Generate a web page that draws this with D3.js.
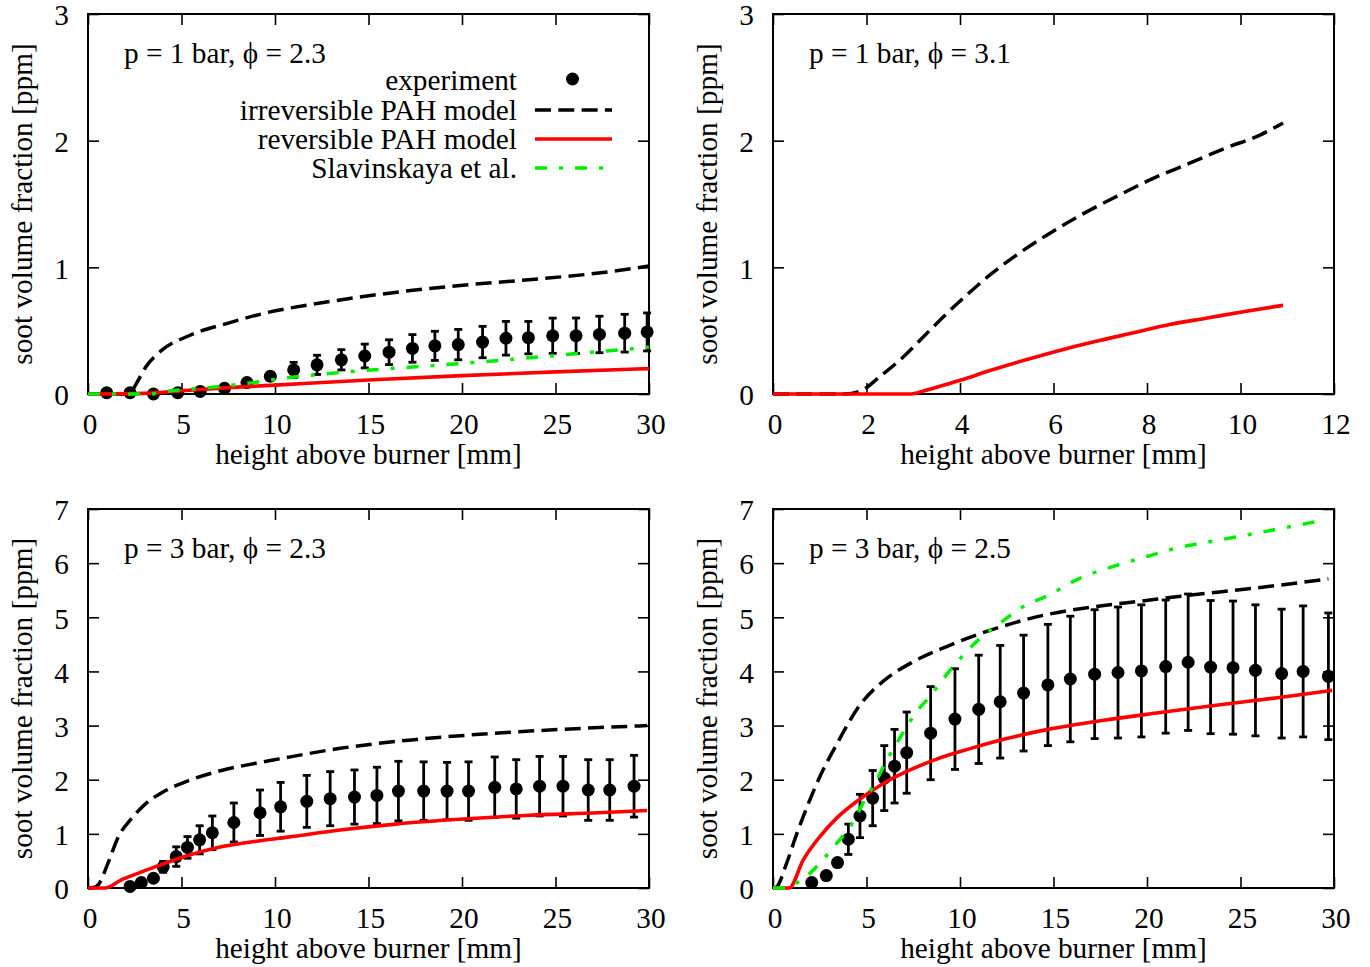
<!DOCTYPE html>
<html>
<head>
<meta charset="utf-8">
<script src="https://cdn.jsdelivr.net/npm/d3@7"></script>
<style>
  html, body { margin: 0; padding: 0; background: #fff; }
  svg text { font-family: "Liberation Serif", "Times New Roman", serif; fill: #000; }
</style>
</head>
<body>
<svg id="chart" width="1370" height="967"></svg>
<script>
// ---------------- DATA ----------------
// Panel A: p = 1 bar, phi = 2.3
const aExpX = [1.0, 2.25, 3.5, 4.8, 6.0, 7.3, 8.5, 9.75, 11.0, 12.25, 13.55, 14.8, 16.1, 17.35, 18.55, 19.8, 21.1, 22.35, 23.55, 24.85, 26.1, 27.35, 28.7, 29.9];
const aExpY = [0.01, 0.01, 0.0, 0.01, 0.02, 0.045, 0.09, 0.14, 0.19, 0.23, 0.27, 0.30, 0.33, 0.36, 0.38, 0.39, 0.41, 0.44, 0.445, 0.46, 0.46, 0.47, 0.48, 0.49];
const aExpErr = [0, 0, 0, 0, 0, 0.01, 0.02, 0.03, 0.06, 0.076, 0.08, 0.094, 0.098, 0.109, 0.115, 0.12, 0.124, 0.133, 0.128, 0.139, 0.14, 0.144, 0.149, 0.15];
const aIrrX = [0, 2.2, 2.5, 2.8, 3.1, 3.9, 5.4, 7.5, 9.5, 12.5, 15.5, 19.4, 23.4, 27.3, 30];
const aIrrY = [0, 0, 0.06, 0.14, 0.215, 0.34, 0.46, 0.56, 0.64, 0.72, 0.785, 0.85, 0.90, 0.955, 1.01];
const aRevX = [0, 3, 5, 7.5, 10, 15, 20, 25, 30];
const aRevY = [0, 0.005, 0.026, 0.05, 0.07, 0.11, 0.145, 0.175, 0.2];
const aSlaX = [0, 3.3, 4.2, 6.2, 8.5, 10.5, 13.5, 16.5, 19.4, 22.4, 25.4, 29.3, 30];
const aSlaY = [0, 0.0, 0.02, 0.047, 0.084, 0.125, 0.17, 0.204, 0.235, 0.27, 0.31, 0.36, 0.37];

// Panel B: p = 1 bar, phi = 3.1
const bIrrX = [0, 1.53, 1.85, 2.31, 2.78, 3.24, 3.7, 4.17, 4.64, 5.26, 5.88, 6.57, 7.35, 8.12, 8.9, 9.67, 10.45, 10.91];
const bIrrY = [0, 0, 0.02, 0.145, 0.29, 0.46, 0.63, 0.79, 0.94, 1.11, 1.26, 1.41, 1.56, 1.70, 1.82, 1.94, 2.05, 2.14];
const bRevX = [0, 2.93, 3.24, 3.7, 4.02, 4.64, 5.41, 6.19, 6.96, 7.74, 8.51, 9.29, 10.06, 10.91];
const bRevY = [0, 0, 0.026, 0.075, 0.11, 0.185, 0.27, 0.35, 0.42, 0.485, 0.55, 0.60, 0.65, 0.70];

// Panel C: p = 3 bar, phi = 2.3
const cExpX = [2.25, 2.85, 3.5, 4.02, 4.72, 5.32, 5.97, 6.65, 7.8, 9.2, 10.3, 11.7, 12.95, 14.25, 15.45, 16.6, 17.95, 19.2, 20.35, 21.75, 22.9, 24.15, 25.4, 26.75, 27.9, 29.2];
const cExpY = [0.03, 0.1, 0.18, 0.39, 0.58, 0.75, 0.89, 1.02, 1.21, 1.39, 1.5, 1.60, 1.65, 1.68, 1.71, 1.79, 1.79, 1.79, 1.79, 1.86, 1.83, 1.88, 1.88, 1.81, 1.81, 1.88];
const cExpErr = [0, 0, 0, 0.1, 0.18, 0.2, 0.26, 0.31, 0.36, 0.42, 0.45, 0.48, 0.50, 0.50, 0.52, 0.55, 0.54, 0.53, 0.54, 0.56, 0.54, 0.55, 0.55, 0.56, 0.56, 0.57];
const cIrrX = [0, 0.3, 0.55, 1.07, 1.6, 2.32, 3.03, 4.1, 5.35, 7.13, 8.91, 10.16, 13.49, 17.44, 21.4, 25.35, 29.9];
const cIrrY = [0, 0.01, 0.06, 0.46, 0.93, 1.28, 1.54, 1.79, 1.98, 2.17, 2.3, 2.38, 2.58, 2.74, 2.85, 2.93, 3.0];
const cRevX = [0, 0.9, 1.78, 2.67, 3.57, 4.45, 5.35, 7.13, 8.91, 10.7, 13.49, 16.45, 19.42, 23.37, 27.3, 29.9];
const cRevY = [0, 0, 0.15, 0.27, 0.39, 0.5, 0.6, 0.76, 0.86, 0.94, 1.07, 1.18, 1.26, 1.34, 1.39, 1.43];

// Panel D: p = 3 bar, phi = 2.5
const dExpX = [2.07, 2.85, 3.45, 4.03, 4.65, 5.33, 5.95, 6.5, 7.15, 8.43, 9.73, 11.0, 12.15, 13.4, 14.7, 15.9, 17.2, 18.45, 19.7, 21.0, 22.2, 23.4, 24.6, 25.8, 27.2, 28.35, 29.7];
const dExpY = [0.1, 0.23, 0.47, 0.9, 1.33, 1.66, 2.03, 2.25, 2.5, 2.86, 3.12, 3.3, 3.44, 3.6, 3.75, 3.86, 3.95, 3.98, 4.01, 4.09, 4.17, 4.08, 4.07, 4.02, 3.96, 4.0, 3.91];
const dExpErr = [0, 0, 0.05, 0.28, 0.4, 0.51, 0.6, 0.68, 0.75, 0.86, 0.93, 1.0, 1.04, 1.07, 1.12, 1.16, 1.19, 1.21, 1.22, 1.23, 1.26, 1.23, 1.23, 1.21, 1.19, 1.21, 1.17];
const dIrrX = [0, 0.1, 0.2, 0.73, 1.27, 1.8, 2.51, 3.4, 4.65, 5.9, 7.5, 9.29, 11.96, 14.64, 17.3, 19.7, 21.8, 25.8, 29.7];
const dIrrY = [0, 0, 0.02, 0.46, 1.0, 1.48, 2.06, 2.65, 3.38, 3.82, 4.18, 4.46, 4.8, 5.05, 5.2, 5.3, 5.39, 5.54, 5.71];
const dRevX = [0, 0.86, 1.62, 2.51, 3.4, 4.48, 5.9, 7.33, 8.75, 10.5, 12.5, 14.7, 17.7, 20.7, 23.8, 27.1, 29.9];
const dRevY = [0, 0, 0.52, 0.95, 1.29, 1.6, 1.93, 2.18, 2.38, 2.57, 2.76, 2.93, 3.1, 3.24, 3.38, 3.52, 3.65];
const dSlaX = [0, 0.8, 1.3, 1.98, 2.51, 3.32, 4.12, 5.01, 5.55, 6.08, 6.61, 7.15, 7.68, 8.22, 9.64, 11.07, 12.14, 13.39, 14.64, 16.4, 18.2, 19.98, 21.6, 23.75, 25.8, 29.5];
const dSlaY = [0, 0, 0.1, 0.27, 0.46, 0.79, 1.13, 1.69, 2.0, 2.36, 2.67, 2.98, 3.26, 3.47, 4.09, 4.61, 4.89, 5.2, 5.39, 5.72, 5.94, 6.12, 6.28, 6.42, 6.55, 6.8];

// Tick values
const xTicks30 = [0, 5, 10, 15, 20, 25, 30];
const xTicks12 = [0, 2, 4, 6, 8, 10, 12];
const yTicks3 = [0, 1, 2, 3];
const yTicks7 = [0, 1, 2, 3, 4, 5, 6, 7];

// Text
const xLabel = "height above burner [mm]";
const yLabel = "soot volume fraction [ppm]";
const titles = ["p = 1 bar, \u03D5 = 2.3", "p = 1 bar, \u03D5 = 3.1", "p = 3 bar, \u03D5 = 2.3", "p = 3 bar, \u03D5 = 2.5"];
const legendLabels = ["experiment", "irreversible PAH model", "reversible PAH model", "Slavinskaya et al."];

// ---------------- STYLE ----------------
const FONT = 29.3;
const styles = {
  irr: { color: "#000", width: 3.5, dash: "16,7.3" },
  rev: { color: "#ff0000", width: 3.6, dash: null },
  sla: { color: "#00ee00", width: 3.5, dash: "12,12,4,12" }
};

const svg = d3.select("#chart");

function zip(xs, ys) { return xs.map((x, i) => [x, ys[i]]); }

function drawPanel(cfg) {
  const g = svg.append("g");
  const x = d3.scaleLinear().domain(cfg.xDomain).range([cfg.left, cfg.right]);
  const y = d3.scaleLinear().domain(cfg.yDomain).range([cfg.bottom, cfg.top]);
  const tl = 11;

  g.append("rect")
    .attr("x", cfg.left).attr("y", cfg.top)
    .attr("width", cfg.right - cfg.left).attr("height", cfg.bottom - cfg.top)
    .attr("fill", "none").attr("stroke", "#000").attr("stroke-width", 2);

  const axB = d3.axisBottom(x).tickValues(cfg.xTicks).tickSize(tl).tickFormat("");
  const axT = d3.axisTop(x).tickValues(cfg.xTicks).tickSize(tl).tickFormat("");
  const axL = d3.axisLeft(y).tickValues(cfg.yTicks).tickSize(tl).tickFormat("");
  const axR = d3.axisRight(y).tickValues(cfg.yTicks).tickSize(tl).tickFormat("");
  function styleAxis(sel) {
    sel.select(".domain").remove();
    sel.selectAll(".tick line").attr("stroke", "#000").attr("stroke-width", 1.6);
  }
  g.append("g").attr("transform", `translate(0,${cfg.bottom - tl})`).call(axB).call(styleAxis);
  g.append("g").attr("transform", `translate(0,${cfg.top + tl})`).call(axT).call(styleAxis);
  g.append("g").attr("transform", `translate(${cfg.left + tl},0)`).call(axL).call(styleAxis);
  g.append("g").attr("transform", `translate(${cfg.right - tl},0)`).call(axR).call(styleAxis);

  g.selectAll(".xt").data(cfg.xTicks).enter().append("text")
    .attr("x", d => x(d) + 2).attr("y", cfg.bottom + 30).attr("dy", "0.35em")
    .attr("text-anchor", "middle").attr("font-size", FONT).text(d => d);
  g.selectAll(".yt").data(cfg.yTicks).enter().append("text")
    .attr("x", cfg.left - 19).attr("y", d => y(d) + 1).attr("dy", "0.35em")
    .attr("text-anchor", "end").attr("font-size", FONT).text(d => d);

  g.append("text").attr("x", (cfg.left + cfg.right) / 2).attr("y", cfg.bottom + 60).attr("dy", "0.35em")
    .attr("text-anchor", "middle").attr("font-size", FONT).text(xLabel);
  g.append("text")
    .attr("transform", `translate(${cfg.left - 66},${(cfg.top + cfg.bottom) / 2}) rotate(-90)`)
    .attr("dy", "0.35em").attr("text-anchor", "middle").attr("font-size", FONT).text(yLabel);

  g.append("text").attr("x", cfg.left + 36).attr("y", cfg.top + 39).attr("dy", "0.35em")
    .attr("font-size", FONT).text(cfg.title);

  if (cfg.exp) {
    const pts = cfg.exp.x.map((xx, i) => ({ x: xx, y: cfg.exp.y[i], e: cfg.exp.err[i] }));
    const eb = g.append("g").attr("stroke", "#000").attr("stroke-width", 2.8);
    pts.filter(p => p.e > 0).forEach(p => {
      const cx = x(p.x), y1 = y(p.y + p.e), y2 = y(p.y - p.e);
      eb.append("line").attr("x1", cx).attr("x2", cx).attr("y1", y1).attr("y2", y2);
      eb.append("line").attr("x1", cx - 4).attr("x2", cx + 4).attr("y1", y1).attr("y2", y1);
      eb.append("line").attr("x1", cx - 4).attr("x2", cx + 4).attr("y1", y2).attr("y2", y2);
    });
    g.selectAll(".pt").data(pts).enter().append("circle")
      .attr("cx", d => x(d.x)).attr("cy", d => y(d.y)).attr("r", 6.5).attr("fill", "#000");
  }

  const line = d3.line().x(d => x(d[0])).y(d => y(d[1])).curve(d3.curveMonotoneX);
  cfg.curves.forEach(c => {
    const s = styles[c.key];
    g.append("path").datum(zip(c.x, c.y)).attr("d", line)
      .attr("fill", "none").attr("stroke", s.color).attr("stroke-width", s.width)
      .attr("stroke-dasharray", s.dash).attr("stroke-linejoin", "round");
  });

  if (cfg.legend) {
    const textRight = cfg.left + 429, lx1 = cfg.left + 447, lx2 = cfg.left + 524;
    const rows = [66, 96, 125, 154];
    const keys = ["exp", "irr", "rev", "sla"];
    keys.forEach((k, i) => {
      const yy = cfg.top + rows[i];
      g.append("text").attr("x", textRight).attr("y", yy).attr("dy", "0.35em")
        .attr("text-anchor", "end").attr("font-size", FONT).text(legendLabels[i]);
      if (k === "exp") {
        g.append("circle").attr("cx", (lx1 + lx2) / 2 - 1).attr("cy", yy - 1).attr("r", 6.5).attr("fill", "#000");
      } else {
        const s = styles[k];
        g.append("line").attr("x1", lx1).attr("x2", lx2).attr("y1", yy).attr("y2", yy)
          .attr("stroke", s.color).attr("stroke-width", s.width).attr("stroke-dasharray", s.dash);
      }
    });
  }
}

drawPanel({
  left: 88, right: 649, top: 14, bottom: 394,
  xDomain: [0, 30], yDomain: [0, 3], xTicks: xTicks30, yTicks: yTicks3,
  title: titles[0], legend: true,
  exp: { x: aExpX, y: aExpY, err: aExpErr },
  curves: [{ key: "irr", x: aIrrX, y: aIrrY }, { key: "rev", x: aRevX, y: aRevY }, { key: "sla", x: aSlaX, y: aSlaY }]
});
drawPanel({
  left: 773, right: 1334, top: 14, bottom: 394,
  xDomain: [0, 12], yDomain: [0, 3], xTicks: xTicks12, yTicks: yTicks3,
  title: titles[1],
  curves: [{ key: "irr", x: bIrrX, y: bIrrY }, { key: "rev", x: bRevX, y: bRevY }]
});
drawPanel({
  left: 88, right: 649, top: 509, bottom: 888,
  xDomain: [0, 30], yDomain: [0, 7], xTicks: xTicks30, yTicks: yTicks7,
  title: titles[2],
  exp: { x: cExpX, y: cExpY, err: cExpErr },
  curves: [{ key: "irr", x: cIrrX, y: cIrrY }, { key: "rev", x: cRevX, y: cRevY }]
});
drawPanel({
  left: 773, right: 1334, top: 509, bottom: 888,
  xDomain: [0, 30], yDomain: [0, 7], xTicks: xTicks30, yTicks: yTicks7,
  title: titles[3],
  exp: { x: dExpX, y: dExpY, err: dExpErr },
  curves: [{ key: "irr", x: dIrrX, y: dIrrY }, { key: "rev", x: dRevX, y: dRevY }, { key: "sla", x: dSlaX, y: dSlaY }]
});
</script>
</body>
</html>
